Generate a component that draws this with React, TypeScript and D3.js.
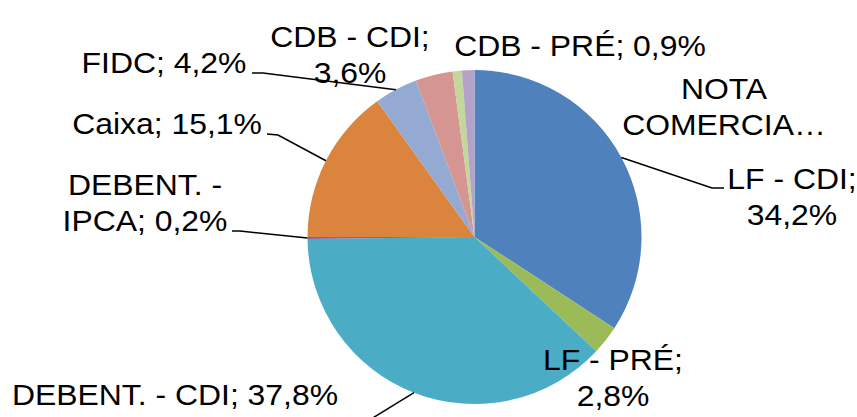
import React from 'react'
import * as d3 from 'd3'

const categories = ['LF - CDI', 'LF - PRÉ', 'DEBENT. - CDI', 'DEBENT. - IPCA', 'Caixa', 'FIDC', 'CDB - CDI', 'CDB - PRÉ', 'NOTA COMERCIAL']
const values = [34.2, 2.8, 37.8, 0.2, 15.1, 4.2, 3.6, 0.9, 1.2]
const colors = ['#4F81BD', '#9BBB59', '#4BACC6', '#8064A2', '#DB843D', '#94AAD3', '#D59593', '#C3D69B', '#B3A2C7']
// label text as excel wrapped it
const labelLines = [
  ['LF - CDI;', '34,2%'],
  ['LF - PRÉ;', '2,8%'],
  ['DEBENT. - CDI; 37,8%'],
  ['DEBENT. -', 'IPCA; 0,2%'],
  ['Caixa; 15,1%'],
  ['FIDC; 4,2%'],
  ['CDB - CDI;', '3,6%'],
  ['CDB - PRÉ; 0,9%'],
  ['NOTA', 'COMERCIA…'],
]

// label placement (centre x, first baseline) and leader bends
const labelPos: [number, number][] = [
  [792, 189], [613, 370], [175, 405], [145, 195], [167, 134],
  [164, 73], [350, 47], [580, 56], [724, 99],
]
const leaders: ([number, number][] | null)[] = [
  [[712, 188], [724, 188]],
  null,
  [[358, 427]],
  [[240, 231], [232, 231]],
  [[278, 135], [267, 134]],
  [[263, 73], [252, 73]],
  null,
  null,
  null,
]

const width = 857
const height = 417
const cx = 474.5
const cy = 237
const radius = 167
const fontSize = 29
const lineHeight = 36
const stretch = 1.1

export default function App() {
  const pie = d3.pie<number>().sort(null).value(d => d)
  const arcs = pie(values)
  const arc = d3.arc<d3.PieArcDatum<number>>().innerRadius(0).outerRadius(radius)
  const edge = d3.arc<d3.PieArcDatum<number>>().innerRadius(radius).outerRadius(radius)
  const line = d3.line()

  return (
    <div style={{ position: 'absolute', left: 0, top: 0 }}>
      <svg width={width} height={height} style={{ display: 'block', background: '#fff' }}>
        <g transform={`translate(${cx},${cy})`}>
          {arcs.map((a, i) => (
            <path key={categories[i]} d={arc(a) || ''} fill={colors[i]} />
          ))}
        </g>
        {arcs.map((a, i) => {
          const pts = leaders[i]
          if (!pts) return null
          const [ex, ey] = edge.centroid(a)
          return (
            <path key={'l' + i} d={line([[cx + ex, cy + ey], ...pts]) || ''}
              fill="none" stroke="#000" strokeWidth={1.5} />
          )
        })}
        {labelLines.map((lines, i) => (
          <text key={'t' + i}
            transform={`translate(${labelPos[i][0]},${labelPos[i][1]}) scale(${stretch},1)`}
            textAnchor="middle" fontFamily="'Liberation Sans', Arial, sans-serif"
            fontSize={fontSize} fill="#000">
            {lines.map((t, j) => (
              <tspan key={j} x={0} y={j * lineHeight}>{t}</tspan>
            ))}
          </text>
        ))}
      </svg>
    </div>
  )
}
